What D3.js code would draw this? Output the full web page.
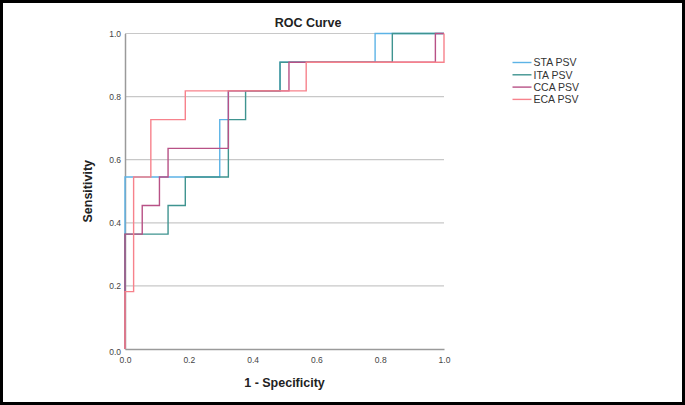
<!DOCTYPE html>
<html>
<head>
<meta charset="utf-8">
<script src="https://cdn.jsdelivr.net/npm/d3@7"></script>
<style>
html,body{margin:0;padding:0;background:#fff;}
svg{display:block;font-family:Arial,"Liberation Sans",sans-serif;}
</style>
</head>
<body>
<svg id="chart" width="685" height="405"></svg>
<script>
// ---- Data (ROC step vertices: 1 - specificity, sensitivity) ----
const seriesNames = ["STA PSV", "ITA PSV", "CCA PSV", "ECA PSV"];
const seriesColors = ["#5cb3e6", "#3f9490", "#b85186", "#f7828c"];
const xTicks = [0.0, 0.2, 0.4, 0.6, 0.8, 1.0];
const yTicks = [0.0, 0.2, 0.4, 0.6, 0.8, 1.0];

const staFpr = [0, 0, 0.297, 0.297, 0.324, 0.324, 0.486, 0.486, 0.784, 0.784, 1.0];
const staTpr = [0, 0.545, 0.545, 0.727, 0.727, 0.818, 0.818, 0.909, 0.909, 1.0, 1.0];

const itaFpr = [0, 0, 0.135, 0.135, 0.189, 0.189, 0.324, 0.324, 0.378, 0.378, 0.486, 0.486, 0.838, 0.838, 1.0];
const itaTpr = [0, 0.364, 0.364, 0.455, 0.455, 0.545, 0.545, 0.727, 0.727, 0.818, 0.818, 0.909, 0.909, 1.0, 1.0];

const ccaFpr = [0, 0, 0.054, 0.054, 0.108, 0.108, 0.135, 0.135, 0.324, 0.324, 0.514, 0.514, 0.973, 0.973, 1.0];
const ccaTpr = [0, 0.364, 0.364, 0.455, 0.455, 0.545, 0.545, 0.636, 0.636, 0.818, 0.818, 0.909, 0.909, 1.0, 1.0];

const ecaFpr = [0, 0, 0.027, 0.027, 0.081, 0.081, 0.189, 0.189, 0.568, 0.568, 1.0, 1.0];
const ecaTpr = [0, 0.182, 0.182, 0.545, 0.545, 0.727, 0.727, 0.818, 0.818, 0.909, 0.909, 1.0];

const seriesFpr = [staFpr, itaFpr, ccaFpr, ecaFpr];
const seriesTpr = [staTpr, itaTpr, ccaTpr, ecaTpr];

// ---- Layout ----
const svg = d3.select("#chart");
const W = 685, H = 405;
const mLeft = 125, mRight = 444, mTop = 33.5, mBottom = 349;

svg.append("rect").attr("x", 0).attr("y", 0).attr("width", W).attr("height", H).attr("fill", "#fff");
svg.append("rect").attr("x", 1.5).attr("y", 1.5).attr("width", W - 3).attr("height", H - 3)
  .attr("fill", "none").attr("stroke", "#000").attr("stroke-width", 3);

const x = d3.scaleLinear().domain([0, 1]).range([mLeft, mRight]);
const y = d3.scaleLinear().domain([0, 1]).range([mBottom, mTop]);

// gridlines
svg.append("g").selectAll("line").data(yTicks.filter(d => d > 0)).join("line")
  .attr("x1", mLeft).attr("x2", mRight)
  .attr("y1", d => y(d)).attr("y2", d => y(d))
  .attr("stroke", "#c8c8c8").attr("stroke-width", 1.2);

// axes
const xAxis = d3.axisBottom(x).tickValues(xTicks).tickFormat(d3.format(".1f")).tickSize(0).tickPadding(7.5);
const yAxis = d3.axisLeft(y).tickValues(yTicks).tickFormat(d3.format(".1f")).tickSize(0).tickPadding(4);

const gx = svg.append("g").attr("transform", `translate(0,${mBottom})`).call(xAxis);
const gy = svg.append("g").attr("transform", `translate(${mLeft},0)`).call(yAxis);
[gx, gy].forEach(g => {
  g.select(".domain").attr("stroke", "#9a9a9a").attr("stroke-width", 1.5);
  g.selectAll("text").attr("font-size", 8.5).attr("fill", "#444").attr("font-family", "Arial, 'Liberation Sans', sans-serif");
});
gy.selectAll(".tick text").filter(d => d === 0).attr("dy", "0.7em");

// series lines
const line = d3.line().x(d => x(d[0])).y(d => y(d[1]));
seriesNames.forEach((name, i) => {
  const pts = seriesFpr[i].map((v, j) => [v, seriesTpr[i][j]]);
  svg.append("path").datum(pts).attr("d", line)
    .attr("fill", "none").attr("stroke", seriesColors[i]).attr("stroke-width", 1.4)
    .attr("stroke-linejoin", "miter");
});

// title and axis titles
svg.append("text").attr("x", 308).attr("y", 27).attr("text-anchor", "middle")
  .attr("font-size", 12.5).attr("font-weight", "bold").attr("fill", "#222").text("ROC Curve");
svg.append("text").attr("x", (mLeft + mRight) / 2).attr("y", 387).attr("text-anchor", "middle")
  .attr("font-size", 12.5).attr("font-weight", "bold").attr("fill", "#222").text("1 - Specificity");
svg.append("text").attr("transform", `translate(92,${(mTop + mBottom) / 2}) rotate(-90)`)
  .attr("text-anchor", "middle").attr("font-size", 12.5).attr("font-weight", "bold").attr("fill", "#222").text("Sensitivity");

// legend
const lg = svg.append("g");
seriesNames.forEach((name, i) => {
  const yy = 62.5 + i * 12.3;
  lg.append("line").attr("x1", 512.5).attr("x2", 531.5).attr("y1", yy).attr("y2", yy)
    .attr("stroke", seriesColors[i]).attr("stroke-width", 1.4);
  lg.append("text").attr("x", 533.5).attr("y", yy + 3.8).attr("font-size", 10.5).attr("fill", "#333").text(name);
});
</script>
</body>
</html>
